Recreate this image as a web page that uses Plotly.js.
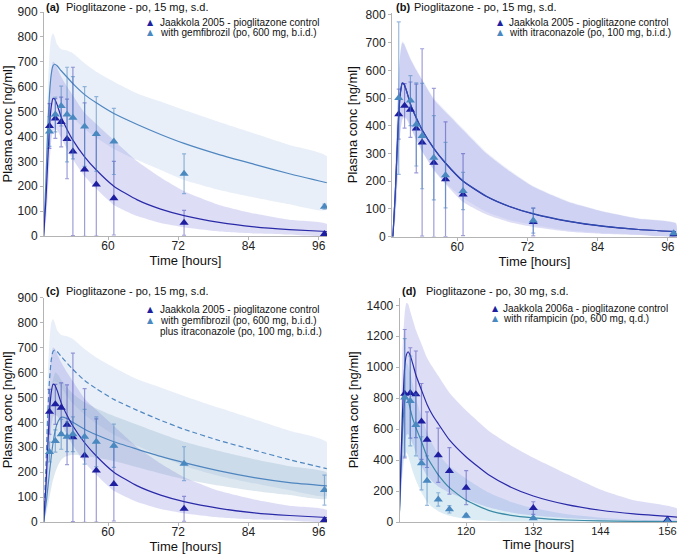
<!DOCTYPE html>
<html><head><meta charset="utf-8">
<script src="https://cdn.plot.ly/plotly-3.0.1.min.js"></script>
<style>html,body{margin:0;padding:0;background:#fff}#chart{width:677px;height:554px}</style>
</head><body><div id="chart"></div>
<script>
// ---------- observed data ----------
const tObs = [50, 51, 52, 53, 54, 56, 58, 61, 73, 97];
const ctlObs = [442, 472, 458, 390, 340, 267, 207, 152, 53, 8];
const ctlErr = [90, 80, 100, 160, 338, 268, 207, 148, 50, 5];
const gemObs = [420, 488, 522, 488, 475, 440, 410, 380, 250, 118];
const gemErr = [60, 70, 80, 190, 165, 160, 150, 133, 80, 10];
const itraObs = [500, null, 491, 405, 363, 285, 222, 165, 58, 12];
const itraErr = [275, null, 90, 150, 190, 152, 118, 67, 45, 5];
const combObs = [281, 325, 352, 342, 352, 342, 322, 306, 234, 128];
const combErr = [40, 45, 60, 60, 70, 110, 100, 87, 68, 60];

const tObsD = [109, 110, 111, 112, 113, 115, 117, 120, 132, 156];
const ctl06Obs = [829, 834, 825, 650, 532, 431, 330, 222, 90, 14];
const ctl06Err = [415, 292, 280, 245, 180, 175, 150, 110, 41, 5];
const rifObs = [805, 782, 627, 379, 267, 146, 82, 41, 24, 5];
const rifErr = [380, 290, 200, 172, 160, 43, 24, 10, 8, 2];

// ---------- simulated curves ----------
const simT = [49, 49.4, 49.7, 50, 50.3, 50.6, 50.9, 51.3, 52, 53, 54, 56, 58, 61, 65, 69, 73, 79, 85, 91, 97.4];
const ctlSim = [0, 150, 300, 440, 520, 553, 550, 528, 478, 428, 385, 318, 265, 200, 145, 108, 82, 55, 37, 26, 18];
const ctlBandUp = [0, 220, 420, 580, 665, 700, 695, 675, 640, 600, 565, 495, 450, 385, 300, 235, 180, 125, 90, 65, 48];
const ctlBandLo = [0, 60, 160, 290, 380, 420, 430, 425, 395, 349, 307, 240, 190, 125, 80, 52, 35, 18, 10, 6, 3];
const gemSim = [0, 230, 430, 570, 650, 684, 690, 684, 664, 638, 612, 568, 535, 492, 448, 408, 372, 327, 288, 250, 214];
const gemBandUp = [0, 320, 580, 730, 800, 815, 800, 770, 750, 745, 734, 694, 660, 620, 573, 540, 506, 458, 412, 366, 320];
const gemBandLo = [0, 180, 340, 460, 530, 560, 565, 560, 540, 505, 475, 430, 395, 350, 305, 265, 225, 185, 155, 128, 105];
const itraSim = [0, 151, 301, 441, 521, 555, 551, 529, 479, 429, 386, 319, 266, 201, 146, 109, 83, 56, 38, 26, 18];
const itraBandUp = [0, 230, 430, 590, 670, 705, 700, 680, 645, 605, 568, 500, 455, 390, 305, 240, 183, 128, 92, 67, 50];
const itraBandLo = [0, 65, 170, 300, 390, 428, 435, 430, 400, 352, 310, 243, 195, 140, 90, 60, 42, 22, 12, 7, 4];

const simT2 = [49, 49.5, 50, 50.5, 51, 51.5, 52, 52.5, 53, 54, 56, 58, 61, 65, 69, 73, 79, 85, 91, 97.4];
const combSim = [0, 90, 200, 300, 370, 405, 420, 420, 415, 400, 372, 350, 322, 292, 263, 238, 205, 178, 158, 145];
const combBandUp = [0, 200, 420, 560, 600, 590, 570, 555, 540, 515, 480, 455, 425, 390, 355, 322, 285, 252, 224, 198];
const combBandLo = [0, 40, 100, 160, 200, 230, 250, 260, 265, 270, 265, 258, 245, 220, 195, 172, 146, 124, 108, 94];

const simTD = [108, 108.3, 108.6, 109, 109.3, 109.6, 110, 110.5, 111, 112, 113, 114, 115, 117, 120, 124, 128, 132, 138, 144, 150, 157.8];
const ctl06Sim = [0, 350, 700, 1000, 1080, 1100, 1075, 1015, 950, 853, 760, 690, 635, 530, 420, 305, 225, 168, 112, 76, 52, 31];
const ctl06BandUp = [0, 600, 1100, 1350, 1415, 1410, 1360, 1300, 1240, 1150, 1060, 1000, 945, 835, 720, 590, 495, 415, 310, 210, 140, 85];
const ctl06BandLo = [0, 150, 350, 500, 560, 570, 540, 500, 450, 360, 300, 260, 230, 190, 145, 95, 62, 42, 25, 15, 9, 5];
const rifSim = [0, 300, 580, 780, 810, 790, 730, 660, 610, 520, 422, 360, 305, 222, 140, 75, 43, 27, 13, 7, 4, 2];
const rifBandUp = [0, 450, 800, 1000, 1030, 1010, 960, 880, 800, 680, 580, 500, 440, 360, 280, 190, 130, 90, 50, 28, 15, 8];
const rifBandLo = [0, 150, 300, 420, 450, 430, 380, 320, 270, 190, 130, 95, 70, 40, 18, 7, 3, 2, 1, 0.5, 0, 0];

// ---------- labels ----------
const panelLetters = ['(a)', '(b)', '(c)', '(d)'];
const panelTitles = ['Pioglitazone - po, 15 mg, s.d.', 'Pioglitazone - po, 15 mg, s.d.', 'Pioglitazone - po, 15 mg, s.d.', 'Pioglitazone - po, 30 mg, s.d.'];
const legendA = ['Jaakkola 2005 - pioglitazone control', 'with gemfibrozil (po, 600 mg, b.i.d.)'];
const legendB = ['Jaakkola 2005 - pioglitazone control', 'with itraconazole (po, 100 mg, b.i.d.)'];
const legendC = ['Jaakkola 2005 - pioglitazone control', 'with gemfibrozil (po, 600 mg, b.i.d.)', 'plus itraconazole (po, 100 mg, b.i.d.)'];
const legendD = ['Jaakkola 2006a - pioglitazone control', 'with rifampicin (po, 600 mg, q.d.)'];
const xTicksABC = [60, 72, 84, 96];
const xTicksD = [120, 132, 144, 156];

// ---------- styles ----------
const W = 677, H = 554;
const px = x => x / W, py = y => 1 - y / H;
const FONT = 'Liberation Sans, Arial, sans-serif';
const cDark = '#1e1ea0', cSteel = '#4a88c0';
const cDarkLine = '#2a2aa8', cSteelLine = '#4f86c0', cRifLine = '#3b8aa6', cItraLine = '#2f4cae';
const eDark = 'rgba(40,40,170,0.45)', eSteel = 'rgba(70,130,190,0.55)';
const fCtl = 'rgba(120,120,220,0.25)', fGem = 'rgba(150,180,225,0.22)', fComb = 'rgba(120,160,190,0.25)';
const fRif = 'rgba(130,185,220,0.28)', fItra = 'rgba(110,130,215,0.12)';

function band(xs, up, lo, color, xa, ya) {
  return {x: xs.concat(xs.slice().reverse()), y: up.concat(lo.slice().reverse()), fill: 'toself', fillcolor: color,
    line: {width: 0, shape: 'spline', smoothing: 0.5}, mode: 'lines', hoverinfo: 'skip', xaxis: xa, yaxis: ya, showlegend: false};
}
function line(xs, ys, color, xa, ya, dash) {
  return {x: xs, y: ys, mode: 'lines', line: {color: color, width: 1.2, dash: dash || 'solid', shape: 'spline', smoothing: 0.5},
    xaxis: xa, yaxis: ya, showlegend: false, hoverinfo: 'skip'};
}
function obs(xs, ys, err, color, ecol, xa, ya) {
  return {x: xs, y: ys, mode: 'markers', marker: {symbol: 'triangle-up', size: 8, color: color},
    error_y: {type: 'data', array: err, visible: true, color: ecol, thickness: 1.2, width: 2},
    xaxis: xa, yaxis: ya, showlegend: false};
}

const traces = [
  // (a)
  band(simT, gemBandUp, gemBandLo, fGem, 'x', 'y'),
  band(simT, ctlBandUp, ctlBandLo, fCtl, 'x', 'y'),
  line(simT, gemSim, cSteelLine, 'x', 'y'),
  line(simT, ctlSim, cDarkLine, 'x', 'y'),
  obs(tObs, ctlObs, ctlErr, cDark, eDark, 'x', 'y'),
  obs(tObs, gemObs, gemErr, cSteel, eSteel, 'x', 'y'),
  // (b)
  band(simT, ctlBandUp, ctlBandLo, fCtl, 'x2', 'y2'),
  band(simT, itraBandUp, itraBandLo, fItra, 'x2', 'y2'),
  line(simT, ctlSim, cDarkLine, 'x2', 'y2'),
  line(simT, itraSim, cItraLine, 'x2', 'y2'),
  obs(tObs, ctlObs, ctlErr, cDark, eDark, 'x2', 'y2'),
  obs(tObs, itraObs, itraErr, cSteel, eSteel, 'x2', 'y2'),
  // (c)
  band(simT, gemBandUp, gemBandLo, fGem, 'x3', 'y3'),
  band(simT, ctlBandUp, ctlBandLo, fCtl, 'x3', 'y3'),
  band(simT2, combBandUp, combBandLo, fComb, 'x3', 'y3'),
  line(simT, gemSim, cSteelLine, 'x3', 'y3', '5px,3px'),
  line(simT2, combSim, cSteelLine, 'x3', 'y3'),
  line(simT, ctlSim, cDarkLine, 'x3', 'y3'),
  obs(tObs, ctlObs, ctlErr, cDark, eDark, 'x3', 'y3'),
  obs(tObs, combObs, combErr, cSteel, eSteel, 'x3', 'y3'),
  // (d)
  band(simTD, rifBandUp, rifBandLo, fRif, 'x4', 'y4'),
  band(simTD, ctl06BandUp, ctl06BandLo, fCtl, 'x4', 'y4'),
  line(simTD, rifSim, cRifLine, 'x4', 'y4'),
  line(simTD, ctl06Sim, cDarkLine, 'x4', 'y4'),
  obs(tObsD, ctl06Obs, ctl06Err, cDark, eDark, 'x4', 'y4'),
  obs(tObsD, rifObs, rifErr, cSteel, eSteel, 'x4', 'y4')
];

const axisBase = {showline: true, linecolor: '#b4b4b4', linewidth: 1, ticks: 'outside', ticklen: 3, tickcolor: '#b4b4b4',
  showgrid: false, zeroline: false, tickfont: {family: FONT, size: 12, color: '#222'}, fixedrange: true,
  ticklabeloverflow: 'allow'};
function xax(domain, range, anchor, ticks, fsize) {
  return Object.assign({}, axisBase, {domain: domain, range: range, anchor: anchor, tickvals: ticks,
    ticklabelstandoff: -4, tickfont: {family: FONT, size: fsize || 12, color: '#222'},
    title: {text: 'Time [hours]', font: {family: FONT, size: 13, color: '#111'}, standoff: 3}});
}
function yax(domain, range, anchor, dtick) {
  return Object.assign({}, axisBase, {domain: domain, range: range, anchor: anchor, dtick: dtick, tick0: 0,
    title: {text: 'Plasma conc [ng/ml]', font: {family: FONT, size: 13, color: '#111'}, standoff: 5}});
}

const annotations = [];
function txt(x, y, s, size, color, bold) {
  annotations.push({xref: 'paper', yref: 'paper', x: px(x), y: py(y), xanchor: 'left', yanchor: 'middle',
    text: bold ? '<b>' + s + '</b>' : s, showarrow: false, font: {family: FONT, size: size, color: color}});
}
function tri(x, y, color) {
  annotations.push({xref: 'paper', yref: 'paper', x: px(x), y: py(y), xanchor: 'center', yanchor: 'middle',
    text: '▲', showarrow: false, font: {family: 'DejaVu Sans, sans-serif', size: 8, color: color}});
}
// panel titles
const titlePos = [[44, 63.5, 7.3], [393.7, 411.5, 7.3], [44.3, 63.5, 291], [400.3, 424.3, 291]];
titlePos.forEach((p, i) => { txt(p[0], p[2], panelLetters[i], 11, '#111', true); txt(p[1], p[2], panelTitles[i], 11, '#111', false); });
// legends
function legend(items, triX, textX, rows) {
  items.forEach((s, i) => {
    if (i === 0) tri(triX, rows[i], cDark);
    else if (i === 1) tri(triX, rows[i], cSteel);
    txt(textX, rows[i], s, 10, '#111', false);
  });
}
legend(legendA, 150.7, 157.5, [22.7, 32.3]);
legend(legendB, 500.3, 506.5, [22.7, 32.3]);
legend(legendC, 150.7, 157.5, [309.3, 320.3, 331.3]);
legend(legendD, 495.3, 501, [308.7, 318.7]);

const layout = {
  width: W, height: H, margin: {l: 0, r: 0, t: 0, b: 0}, paper_bgcolor: '#fff', plot_bgcolor: 'rgba(0,0,0,0)',
  showlegend: false, font: {family: FONT},
  xaxis: xax([px(44), px(327)], [49.06, 97.43], 'y', xTicksABC),
  yaxis: yax([py(236), py(12)], [0, 900], 'x', 100),
  xaxis2: xax([px(392), 1], [48.85, 97.57], 'y2', xTicksABC),
  yaxis2: yax([py(236.7), py(12.7)], [0, 808], 'x2', 100),
  xaxis3: xax([px(44), px(327)], [49.06, 97.43], 'y3', xTicksABC),
  yaxis3: yax([py(522), py(297.7)], [0, 900], 'x3', 100),
  xaxis4: xax([px(399.7), 1], [108.106, 157.7], 'y4', xTicksD, 11),
  yaxis4: yax([py(522), py(297.6)], [0, 1450], 'x4', 200),
  annotations: annotations
};
Plotly.newPlot('chart', traces, layout, {staticPlot: true, displayModeBar: false});
</script></body></html>
